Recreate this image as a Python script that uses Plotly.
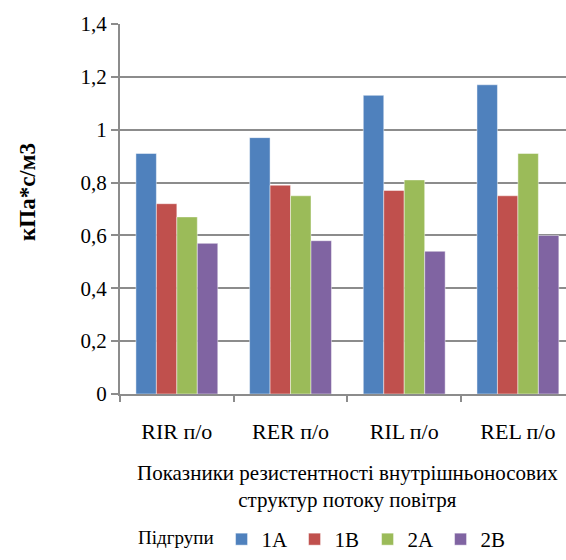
import plotly.graph_objects as go

# Нижні категорії (показники резистентності)
categories = ["RIR п/о", "RER п/о", "RIL п/о", "REL п/о"]

# Середні значення за підгрупами, кПа*с/м3
group_names = ["1A", "1B", "2A", "2B"]
values_1a = [0.91, 0.97, 1.13, 1.17]
values_1b = [0.72, 0.79, 0.77, 0.75]
values_2a = [0.67, 0.75, 0.81, 0.91]
values_2b = [0.57, 0.58, 0.54, 0.60]

y_ticks = [0, 0.2, 0.4, 0.6, 0.8, 1.0, 1.2, 1.4]

colors = ["#4F81BD", "#C0504D", "#9BBB59", "#8064A2"]
series = [values_1a, values_1b, values_2a, values_2b]

FONT = "Liberation Serif, Times New Roman, DejaVu Serif, serif"
GRID = "#8c8c8c"

fig = go.Figure()
for name, vals, col in zip(group_names, series, colors):
    fig.add_trace(go.Bar(
        x=categories, y=vals, name=name,
        marker=dict(color=col, line=dict(color="rgba(255,255,255,0.45)", width=1)),
    ))

fig.update_layout(
    width=566, height=560,
    margin=dict(l=120, r=0, t=24, b=166),
    paper_bgcolor="white", plot_bgcolor="white",
    separators=", ",
    barmode="group", bargap=0.28, bargroupgap=0,
    font=dict(family=FONT, size=20, color="black"),
    showlegend=True,
    legend=dict(
        orientation="h",
        xref="container", yref="container",
        x=136 / 566, xanchor="left",
        y=0.0, yanchor="bottom",
        title=dict(text="Підгрупи", side="left", font=dict(family=FONT, size=19)),
        font=dict(family=FONT, size=21),
        itemwidth=30,
        entrywidth=28,
        traceorder="normal",
        bgcolor="rgba(0,0,0,0)",
    ),
)

fig.update_xaxes(
    type="category",
    range=[-0.5, 3.423],
    showgrid=False,
    showline=True, linecolor=GRID, linewidth=2,
    ticks="outside", tickson="boundaries", ticklen=6, tickcolor=GRID, tickwidth=2,
    ticklabelstandoff=17,
    tickfont=dict(family=FONT, size=22),
)

fig.update_yaxes(
    range=[0, 1.4],
    tickvals=y_ticks,
    showgrid=True, gridcolor=GRID, gridwidth=2,
    showline=True, linecolor=GRID, linewidth=2,
    zeroline=False,
    ticks="outside", ticklen=7, tickcolor=GRID, tickwidth=2,
    tickfont=dict(family=FONT, size=21),
)

# Назва осі X (два рядки, по центру області побудови)
fig.add_annotation(
    text="Показники резистентності внутрішньоносових<br>структур потоку повітря",
    xref="paper", yref="paper",
    x=(347 - 120) / 446, y=-(486 - 394) / 370,
    xanchor="center", yanchor="middle",
    showarrow=False, font=dict(family=FONT, size=21), align="center",
)

# Назва осі Y
fig.add_annotation(
    text="<b>кПа*с/м3</b>",
    xref="paper", yref="paper",
    x=(27 - 120) / 446, y=(394 - 192) / 370,
    xanchor="center", yanchor="middle",
    textangle=-90, showarrow=False, font=dict(family=FONT, size=23),
)

fig.write_html("out.html")
